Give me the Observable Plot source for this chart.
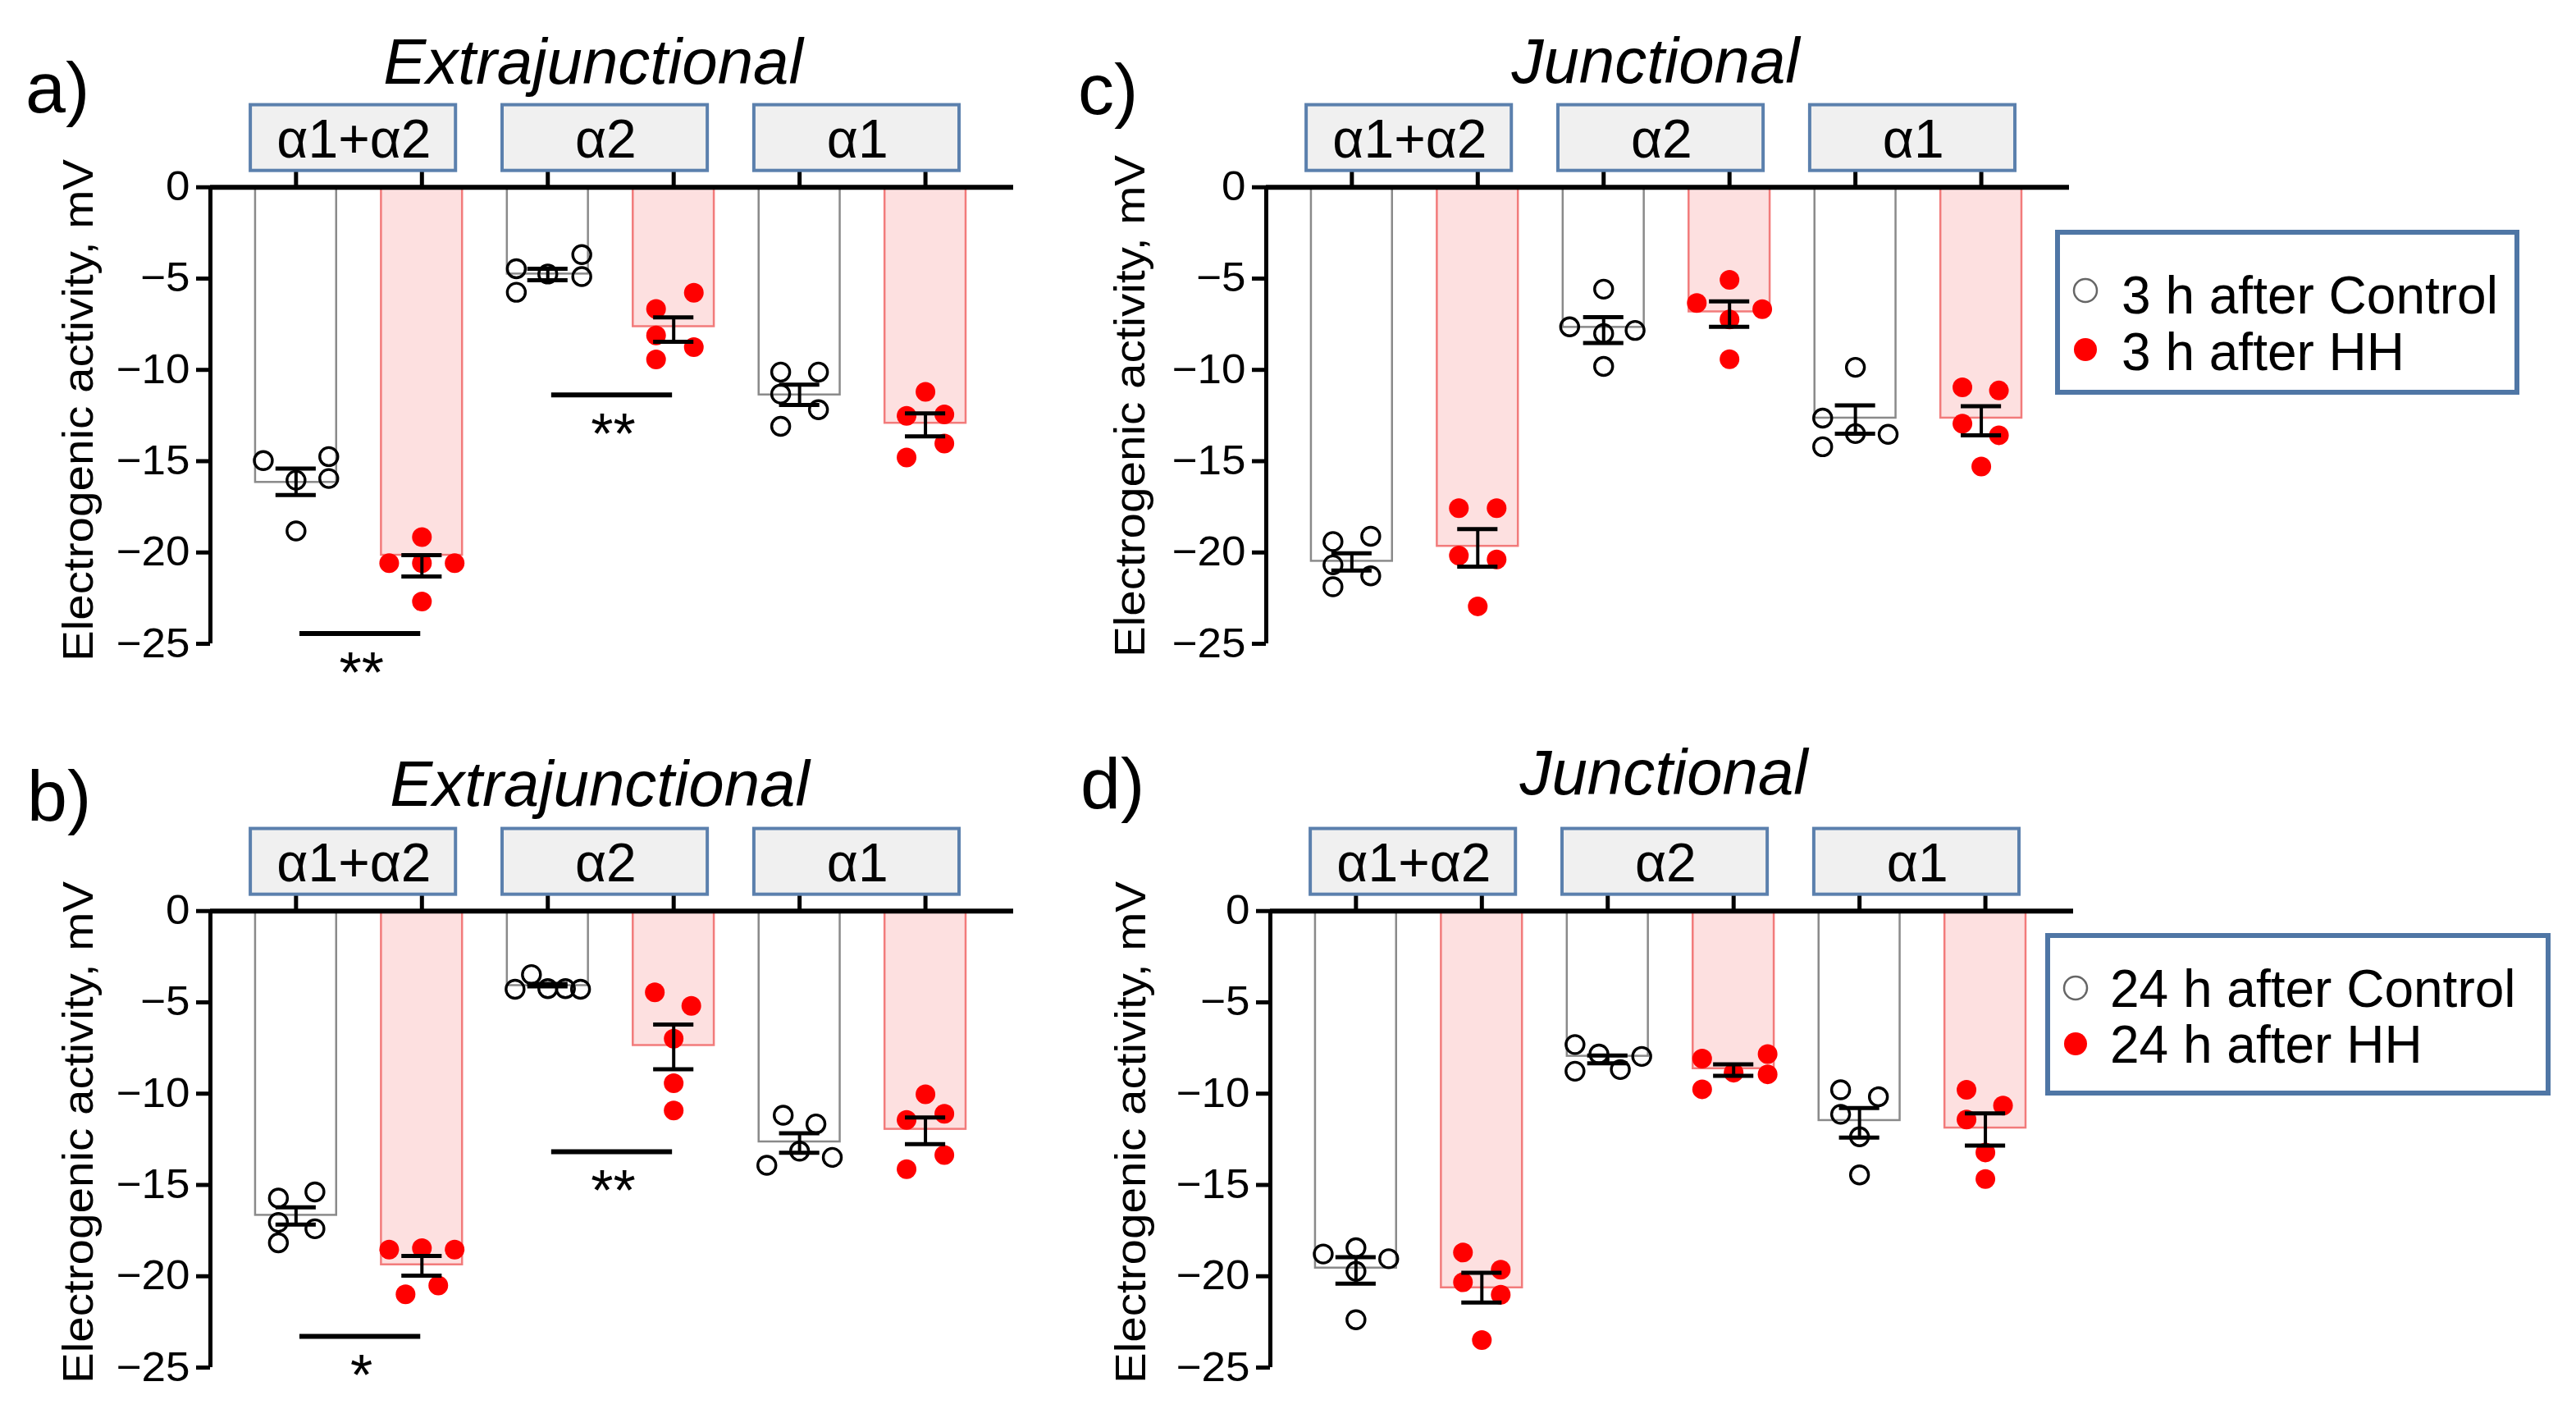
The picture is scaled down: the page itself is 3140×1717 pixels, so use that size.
<!DOCTYPE html>
<html><head><meta charset="utf-8">
<script src="https://cdn.jsdelivr.net/npm/d3@7"></script>
<script src="https://cdn.jsdelivr.net/npm/@observablehq/plot@0.6"></script>
<style>
html,body{margin:0;padding:0;background:#fff;overflow:hidden;}
#root{position:relative;width:3140px;height:1717px;font-family:"Liberation Sans",Arial,sans-serif;}
.panel{position:absolute;}
#overlay{position:absolute;left:0;top:0;pointer-events:none;}
</style></head><body><div id="root"></div>
<script>
// ---------- shared categories ----------
const groups = ["α1+α2", "α2", "α1"];
const barIndex = [0, 1, 2, 3, 4, 5];
const barCondition = ["Control", "HH", "Control", "HH", "Control", "HH"];
const yTicks = [0, -5, -10, -15, -20, -25];
const yTickLabels = ["0", "−5", "−10", "−15", "−20", "−25"];

// ---------- panel a (Extrajunctional, 3 h) ----------
const aMean = [-16.16, -20.15, -4.75, -7.63, -11.37, -12.92];
const aErrHi = [-15.40, -20.15, -4.46, -7.12, -10.81, -12.38];
const aErrLo = [-16.86, -21.32, -5.09, -8.46, -11.92, -13.64];
const aPoints = [
  [-14.97, -14.75, -16.04, -15.95, -18.82],
  [-19.16, -20.58, -20.58, -20.58, -22.69],
  [-4.46, -5.75, -4.75, -3.69, -4.89],
  [-5.78, -6.66, -8.11, -8.75, -9.43],
  [-10.12, -10.12, -11.32, -12.18, -13.09],
  [-11.20, -12.52, -12.44, -14.03, -14.80]
];
const aJitter = [
  [-0.26, 0.26, 0, 0.26, 0],
  [0, -0.26, 0.26, 0, 0],
  [-0.25, -0.25, 0, 0.27, 0.27],
  [0.16, -0.14, -0.14, 0.16, -0.14],
  [-0.15, 0.15, -0.15, 0.15, -0.15],
  [0, -0.15, 0.15, 0.15, -0.15]
];
const aSigFrom = [0, 2];
const aSigTo = [1, 3];
const aSigY = [-24.44, -11.37];
const aSigLabel = ["**", "**"];

// ---------- panel b (Extrajunctional, 24 h) ----------
const bMean = [-16.66, -19.37, -4.08, -7.36, -12.64, -11.95];
const bErrHi = [-16.23, -18.89, -3.99, -6.22, -12.17, -11.30];
const bErrLo = [-17.17, -19.97, -4.13, -8.66, -13.24, -12.77];
const bPoints = [
  [-15.72, -15.38, -17.05, -17.40, -18.17],
  [-18.54, -18.46, -18.54, -20.51, -20.99],
  [-4.28, -3.48, -4.25, -4.25, -4.28],
  [-4.45, -5.19, -6.99, -9.43, -10.92],
  [-11.18, -11.66, -13.15, -13.49, -13.92],
  [-10.03, -11.44, -11.10, -13.36, -14.14]
];
const bJitter = [
  [-0.14, 0.15, -0.14, 0.15, -0.14],
  [-0.26, 0, 0.26, 0.13, -0.13],
  [-0.26, -0.13, 0, 0.14, 0.26],
  [-0.15, 0.14, 0, 0, 0],
  [-0.13, 0.13, 0, 0.26, -0.26],
  [0, -0.15, 0.15, 0.15, -0.15]
];
const bSigFrom = [0, 2];
const bSigTo = [1, 3];
const bSigY = [-23.29, -13.18];
const bSigLabel = ["*", "**"];

// ---------- panel c (Junctional, 3 h) ----------
const cMean = [-20.48, -19.66, -7.67, -6.82, -12.64, -12.64];
const cErrHi = [-20.05, -18.72, -7.11, -6.25, -11.95, -11.99];
const cErrLo = [-20.99, -20.77, -8.53, -7.64, -13.49, -13.58];
const cPoints = [
  [-19.40, -19.11, -20.68, -21.28, -21.88],
  [-17.57, -17.57, -20.17, -20.38, -22.95],
  [-5.58, -7.64, -7.84, -8.01, -9.81],
  [-5.07, -6.34, -6.68, -7.24, -9.42],
  [-9.86, -12.64, -13.49, -13.53, -14.21],
  [-10.96, -11.13, -12.95, -13.58, -15.29]
];
const cJitter = [
  [-0.15, 0.15, -0.15, 0.15, -0.15],
  [-0.15, 0.15, -0.15, 0.15, 0],
  [0, -0.27, 0.25, 0, 0],
  [0, -0.26, 0.26, 0, 0],
  [0, -0.26, 0, 0.26, -0.26],
  [-0.15, 0.14, -0.15, 0.14, 0]
];

// ---------- panel d (Junctional, 24 h) ----------
const dMean = [-19.55, -20.63, -7.95, -8.63, -11.47, -11.88];
const dErrHi = [-18.96, -19.81, -7.91, -8.39, -10.79, -11.08];
const dErrLo = [-20.41, -21.44, -8.34, -9.02, -12.41, -12.84];
const dPoints = [
  [-18.78, -18.44, -19.04, -19.73, -22.38],
  [-18.70, -19.64, -20.33, -21.01, -23.49],
  [-7.31, -7.83, -7.96, -8.77, -8.68],
  [-8.08, -7.83, -8.85, -8.94, -9.76],
  [-9.79, -10.17, -11.13, -12.36, -14.45],
  [-9.79, -10.65, -11.42, -13.22, -14.67]
];
const dJitter = [
  [-0.26, 0, 0.26, 0, 0],
  [-0.15, 0.15, -0.15, 0.15, 0],
  [-0.26, -0.07, 0.27, -0.26, 0.10],
  [-0.25, 0.27, 0, 0.27, -0.25],
  [-0.15, 0.15, -0.15, 0, 0],
  [-0.15, 0.14, -0.15, 0, 0]
];

// ---------- drawing ----------
const X_DOMAIN = [-0.68, 5.70];
const Y_DOMAIN = [-25, 5.2];

function buildPanel(M, H, L, P, J, sig, height, marginBottom) {
  const bars = barIndex.map(i => ({x: i, cond: barCondition[i], mean: M[i], hi: H[i], lo: L[i]}));
  const pts = barIndex.flatMap(i => P[i].map((v, k) => ({x: i + J[i][k], y: v, cond: barCondition[i]})));
  const boxes = groups.map((g, k) => ({name: g, start: 2 * k}));
  const sigs = sig ? sig.from.map((f, k) => ({from: f, to: sig.to[k], y: sig.y[k], label: sig.label[k]})) : [];
  const ctrlBars = bars.filter(d => d.cond === "Control");
  const hhBars = bars.filter(d => d.cond === "HH");
  const cap = 0.16, half = 0.322;
  return Plot.plot({
    width: 1300, height,
    marginLeft: 256, marginRight: 65, marginTop: 112, marginBottom,
    x: {domain: X_DOMAIN, axis: null},
    y: {domain: Y_DOMAIN, axis: null},
    style: {overflow: "visible", maxWidth: "none", background: "transparent", fontFamily: "Liberation Sans, Arial, sans-serif", color: "#000"},
    marks: [
      Plot.rect(ctrlBars, {x1: d => d.x - half, x2: d => d.x + half, y1: 0, y2: "mean", fill: "#ffffff", stroke: "#8a8a8a", strokeWidth: 2.5}),
      Plot.rect(hhBars, {x1: d => d.x - half, x2: d => d.x + half, y1: 0, y2: "mean", fill: "#fde0e0", stroke: "#f27b7b", strokeWidth: 2.5}),
      Plot.dot(pts.filter(d => d.cond === "Control"), {x: "x", y: "y", r: 11, fill: "none", stroke: "#000", strokeWidth: 3.4}),
      Plot.dot(pts.filter(d => d.cond === "HH"), {x: "x", y: "y", r: 12, fill: "#ff0000"}),
      Plot.ruleX(bars, {x: "x", y1: "hi", y2: "lo", stroke: "#000", strokeWidth: 4}),
      Plot.ruleY(bars, {y: "hi", x1: d => d.x - cap, x2: d => d.x + cap, stroke: "#000", strokeWidth: 5}),
      Plot.ruleY(bars, {y: "lo", x1: d => d.x - cap, x2: d => d.x + cap, stroke: "#000", strokeWidth: 5}),
      Plot.ruleY(sigs, {y: "y", x1: d => d.from + 0.03, x2: d => d.to - 0.01, stroke: "#000", strokeWidth: 6}),
      Plot.text(sigs, {x: d => (d.from + d.to) / 2 + 0.02, y: "y", text: "label", fontSize: 70, lineAnchor: "bottom", dy: 72, fill: "#000"}),
      Plot.ruleX(barIndex, {x: d => d, y1: 0, y2: 0.95, stroke: "#000", strokeWidth: 5}),
      Plot.rect(boxes, {x1: d => d.start - 0.36, x2: d => d.start + 1.27, y1: 0.9, y2: 4.5, fill: "#f0f0f0", stroke: "#5b80ad", strokeWidth: 4}),
      Plot.text(boxes, {x: d => d.start + 0.46, y: 2.7, text: "name", fontSize: 66, dy: 3, fill: "#000"}),
      Plot.ruleY([0], {x1: X_DOMAIN[0], x2: X_DOMAIN[1], stroke: "#000", strokeWidth: 6}),
      Plot.ruleX([X_DOMAIN[0]], {y1: 0, y2: -25, stroke: "#000", strokeWidth: 5}),
      Plot.axisY(yTicks, {anchor: "left", tickSize: 17, tickPadding: 8, fontSize: 50, strokeWidth: 5, label: null,
        tickFormat: d => yTickLabels[yTicks.indexOf(d)]})
    ]
  });
}

const root = document.getElementById("root");
function place(svg, left, top) {
  const div = document.createElement("div");
  div.className = "panel";
  div.style.left = left + "px";
  div.style.top = top + "px";
  div.appendChild(svg);
  root.appendChild(div);
  d3.select(svg).selectAll("text")
    .filter(function () { return yTickLabels.includes(this.textContent); })
    .each(function () {
      const w = this.getComputedTextLength();
      this.setAttribute("textLength", w * 1.06);
      this.setAttribute("lengthAdjust", "spacingAndGlyphs");
    });
}

place(buildPanel(aMean, aErrHi, aErrLo, aPoints, aJitter, {from: aSigFrom, to: aSigTo, y: aSigY, label: aSigLabel}, 860, 76), 0, 0);
place(buildPanel(bMean, bErrHi, bErrLo, bPoints, bJitter, {from: bSigFrom, to: bSigTo, y: bSigY, label: bSigLabel}, 835, 51), 0, 882);
place(buildPanel(cMean, cErrHi, cErrLo, cPoints, cJitter, null, 860, 76), 1287, 0);
place(buildPanel(dMean, dErrHi, dErrLo, dPoints, dJitter, null, 835, 51), 1292, 882);

// ---------- overlay: titles, panel letters, axis labels, legends ----------
const ov = d3.select(root).append("svg").attr("id", "overlay")
  .attr("width", 3140).attr("height", 1717)
  .style("font-family", "Liberation Sans, Arial, sans-serif");

const titles = [
  {t: "Extrajunctional", x: 723, y: 102},
  {t: "Extrajunctional", x: 731, y: 982},
  {t: "Junctional", x: 2018, y: 101},
  {t: "Junctional", x: 2028, y: 968}
];
titles.forEach(d => ov.append("text").attr("x", d.x).attr("y", d.y).attr("text-anchor", "middle")
  .attr("font-size", 78).attr("font-style", "italic").attr("fill", "#000").text(d.t));

const letters = [
  {t: "a)", x: 31, y: 137}, {t: "b)", x: 33, y: 1000},
  {t: "c)", x: 1314, y: 139}, {t: "d)", x: 1317, y: 985}
];
letters.forEach(d => ov.append("text").attr("x", d.x).attr("y", d.y)
  .attr("font-size", 88).attr("fill", "#000").text(d.t));

const ylabels = [{x: 113, y: 500}, {x: 113, y: 1380}, {x: 1395, y: 495}, {x: 1396, y: 1380}];
ylabels.forEach(d => ov.append("text")
  .attr("transform", `translate(${d.x},${d.y}) rotate(-90)`)
  .attr("text-anchor", "middle").attr("font-size", 52).attr("fill", "#000")
  .attr("textLength", 612).attr("lengthAdjust", "spacingAndGlyphs")
  .text("Electrogenic activity, mV"));

function legend(x, y, w, h, cy1, cy2, mx, tx, tb1, tb2, l1, l2) {
  ov.append("rect").attr("x", x).attr("y", y).attr("width", w).attr("height", h)
    .attr("fill", "#fff").attr("stroke", "#4f76a5").attr("stroke-width", 6);
  ov.append("circle").attr("cx", mx).attr("cy", cy1).attr("r", 14)
    .attr("fill", "none").attr("stroke", "#666").attr("stroke-width", 2.5);
  ov.append("circle").attr("cx", mx).attr("cy", cy2).attr("r", 14).attr("fill", "#ff0000");
  ov.append("text").attr("x", tx).attr("y", tb1).attr("font-size", 64).attr("fill", "#000").text(l1);
  ov.append("text").attr("x", tx).attr("y", tb2).attr("font-size", 64).attr("fill", "#000").text(l2);
}
legend(2508, 283, 560, 195, 354, 426, 2542, 2586, 382, 451, "3 h after Control", "3 h after HH");
legend(2496, 1140, 610, 192, 1204, 1272, 2530, 2572, 1227, 1295, "24 h after Control", "24 h after HH");
</script>
</body></html>
